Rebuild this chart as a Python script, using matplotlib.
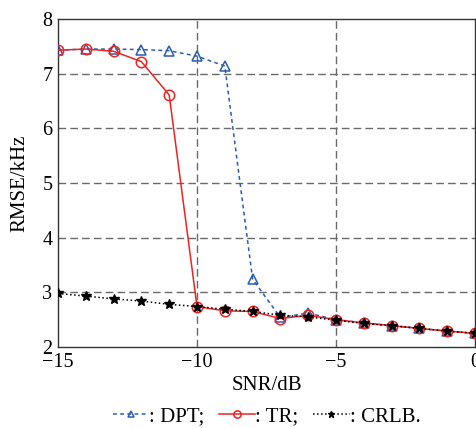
import matplotlib
matplotlib.use('Agg')
import matplotlib.pyplot as plt

plt.rcParams['font.family'] = ['Liberation Serif', 'DejaVu Serif']
plt.rcParams['mathtext.fontset'] = 'stix'

# data
snr = [-15, -14, -13, -12, -11, -10, -9, -8, -7, -6, -5, -4, -3, -2, -1, 0]
dpt = [7.43, 7.45, 7.45, 7.44, 7.42, 7.32, 7.14, 3.24, 2.54, 2.62,
       2.50, 2.44, 2.39, 2.34, 2.29, 2.25]
tr = [7.43, 7.45, 7.41, 7.22, 6.61, 2.74, 2.66, 2.65, 2.52, 2.58,
      2.50, 2.44, 2.39, 2.34, 2.29, 2.25]
crlb = [2.98, 2.93, 2.88, 2.84, 2.78, 2.74, 2.69, 2.65, 2.58, 2.55,
        2.49, 2.43, 2.39, 2.34, 2.29, 2.25]
xticks = [-15, -10, -5, 0]
yticks = [2, 3, 4, 5, 6, 7, 8]

fig = plt.figure(figsize=(4.77, 4.28), dpi=100)
ax = fig.add_axes([0.1216, 0.1893, 0.8742, 0.7663])

ax.plot(snr, dpt, color='#2a5cb0', ls=(0, (2.5, 2.2)), lw=1.1, marker='^',
        ms=7, mfc='none', mec='#2a5cb0', mew=1.1, label=': DPT;', zorder=3)
ax.plot(snr, tr, color='#ee2222', ls='-', lw=1.1, marker='o',
        ms=7.5, mfc='none', mec='#ee2222', mew=1.1, label=': TR;', zorder=4)
ax.plot(snr, crlb, color='black', ls=':', lw=1.1, marker='*',
        ms=7, mfc='black', mec='black', label=': CRLB.', zorder=5)

ax.set_xlim(-15, 0)
ax.set_ylim(2, 8)
ax.set_xticks(xticks)
ax.set_yticks(yticks)
ax.set_xticklabels(['\u221215', '\u221210', '\u22125', '0'])
ax.tick_params(direction='in', length=0, labelsize=14.5, pad=4)

for x in [-10, -5]:
    ax.axvline(x, color='#6a6a6a', ls=(0, (5.5, 3)), lw=1.0, zorder=1)
for y in [3, 4, 5, 6, 7]:
    ax.axhline(y, color='#6a6a6a', ls=(0, (5.5, 3)), lw=1.0, zorder=1)

for s in ax.spines.values():
    s.set_linewidth(1.0)
    s.set_color('#333333')

ax.set_xlabel('SNR/dB', fontsize=15, labelpad=3)
ax.set_ylabel('RMSE/kHz', fontsize=15, labelpad=9)

ax.legend(loc='center', bbox_to_anchor=(0.5, -0.213), ncol=3,
          frameon=False, fontsize=15, handlelength=1.75, handletextpad=0.0,
          columnspacing=0.7, markerscale=0.7, borderpad=0)

fig.savefig('out.png', dpi=100)
